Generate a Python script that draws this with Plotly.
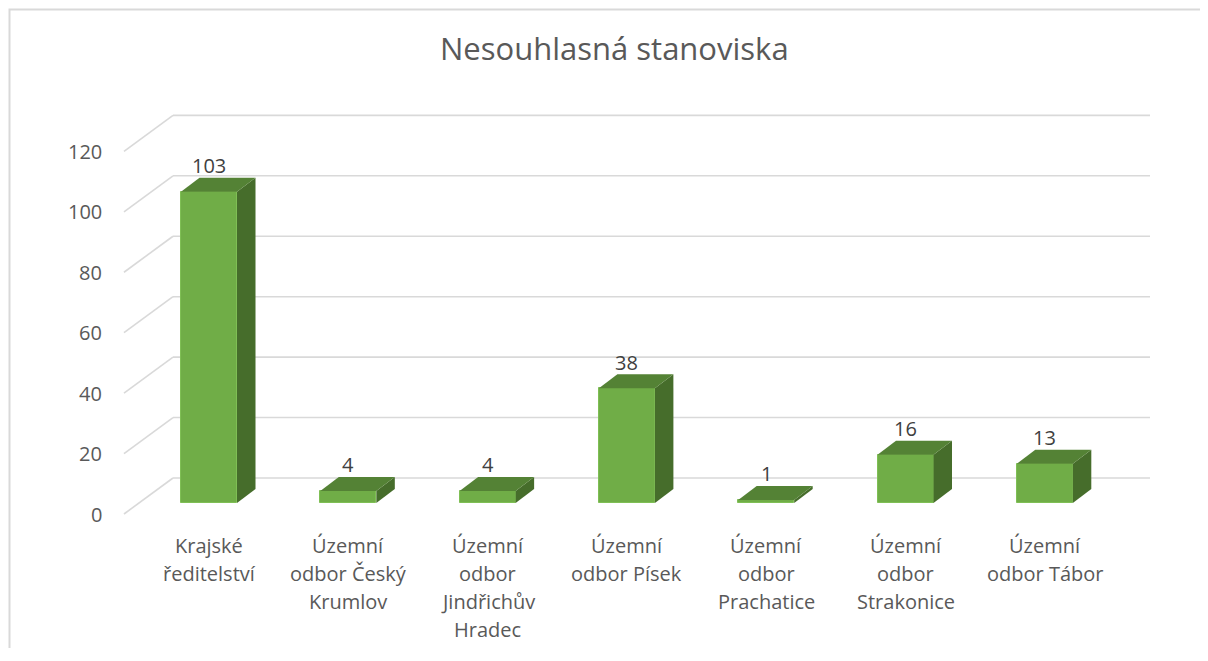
import plotly.graph_objects as go

# ---------------- data ----------------
title = "Nesouhlasná stanoviska"
categories = [
    "Krajské<br>ředitelství",
    "Územní<br>odbor Český<br>Krumlov",
    "Územní<br>odbor<br>Jindřichův<br>Hradec",
    "Územní<br>odbor Písek",
    "Územní<br>odbor<br>Prachatice",
    "Územní<br>odbor<br>Strakonice",
    "Územní<br>odbor Tábor",
]
values = [103, 4, 4, 38, 1, 16, 13]
y_ticks = [0, 20, 40, 60, 80, 100, 120]

# ---------------- geometry (pixel based styling) ----------------
OFF = 8                       # page body margin of the browser
W, H = 1192, 640
PX0, PXS = 209.0 - OFF, 139.3      # pixel centre of first category, pixels per category
PY0, PYS = 503.0 - OFF, 3.022      # pixel of value 0 (bar front plane), pixels per unit


def dx(p):
    return p / PXS


def dy(p):
    return p / PYS


def px_to_x(p):
    # p given in screen pixels
    return (p - OFF - PX0) / PXS


def py_to_y(p):
    return (PY0 - (p - OFF)) / PYS


xr = [px_to_x(OFF), px_to_x(OFF + W)]
yr = [py_to_y(OFF + H), py_to_y(OFF)]

bar_w = dx(56)
bd_x, bd_y = dx(18.5), dy(14)          # bar depth offset
front_dy = dy(-11)                      # floor front edge relative to bar front
back_dy = dy(25)                        # back wall relative to bar front
wall_front_x = px_to_x(124)
wall_back_x = px_to_x(173)
wall_right_x = px_to_x(1150)

FRONT = "#70ad47"
TOP = "#548235"
SIDE = "#466d2b"
GRID = "#d9d9d9"
TXT = "#595959"
FONT = "Open Sans"

fig = go.Figure()

shapes = []
# chart frame: rectangle whose right and bottom edges lie outside the page
fx = (9.5 - OFF) / W
fy = 1 - (9.5 - OFF) / H
shapes.append(dict(type="rect", xref="paper", yref="paper",
                   x0=fx, x1=1.1, y0=-0.1, y1=fy,
                   line=dict(color=GRID, width=2), fillcolor="rgba(0,0,0,0)",
                   layer="below"))

for t in y_ticks:
    shapes.append(dict(type="line", xref="x", yref="y",
                       x0=wall_back_x, x1=wall_right_x,
                       y0=t + back_dy, y1=t + back_dy,
                       line=dict(color=GRID, width=1.6), layer="below"))
    shapes.append(dict(type="line", xref="x", yref="y",
                       x0=wall_front_x, x1=wall_back_x,
                       y0=t + front_dy, y1=t + back_dy,
                       line=dict(color=GRID, width=1.6), layer="below"))

for i, v in enumerate(values):
    xl = i - bar_w / 2
    xrt = i + bar_w / 2
    top = f"M {xl},{v} L {xrt},{v} L {xrt + bd_x},{v + bd_y} L {xl + bd_x},{v + bd_y} Z"
    side = f"M {xrt},0 L {xrt},{v} L {xrt + bd_x},{v + bd_y} L {xrt + bd_x},{bd_y} Z"
    shapes.append(dict(type="path", xref="x", yref="y", path=side,
                       fillcolor=SIDE, line=dict(width=0), layer="above"))
    shapes.append(dict(type="path", xref="x", yref="y", path=top,
                       fillcolor=TOP, line=dict(width=0), layer="above"))

fig.add_trace(go.Bar(
    x=list(range(len(values))), y=values, width=bar_w,
    marker=dict(color=FRONT, line=dict(color="#7fbf55", width=1)),
    hoverinfo="skip", showlegend=False,
))

annotations = []
for i, v in enumerate(values):
    annotations.append(dict(x=i, y=v + bd_y + dy(12), xref="x", yref="y",
                            text=str(v), showarrow=False, yanchor="middle",
                            font=dict(family=FONT, size=20, color="#404040")))
for t in y_ticks:
    annotations.append(dict(x=px_to_x(104), y=t + front_dy, xref="x", yref="y",
                            text=str(t), showarrow=False, xanchor="right",
                            yanchor="middle",
                            font=dict(family=FONT, size=20, color=TXT)))
LINE_H = 28
for i, c in enumerate(categories):
    for k, line in enumerate(c.split("<br>")):
        annotations.append(dict(x=i, y=py_to_y(545 + LINE_H * k), xref="x", yref="y",
                                text=line, showarrow=False, xanchor="center",
                                yanchor="middle", align="center",
                                font=dict(family=FONT, size=20, color=TXT)))
annotations.append(dict(x=px_to_x(614), y=py_to_y(48), xref="x", yref="y",
                        text=title, showarrow=False, xanchor="center",
                        yanchor="middle",
                        font=dict(family=FONT, size=31, color=TXT)))

fig.update_layout(
    width=W, height=H, autosize=False,
    margin=dict(l=0, r=0, t=0, b=0),
    paper_bgcolor="white", plot_bgcolor="white",
    xaxis=dict(range=xr, visible=False, fixedrange=True),
    yaxis=dict(range=yr, visible=False, fixedrange=True),
    shapes=shapes, annotations=annotations,
    bargap=0, showlegend=False,
)

fig.write_html("out.html", config={"displayModeBar": False})
